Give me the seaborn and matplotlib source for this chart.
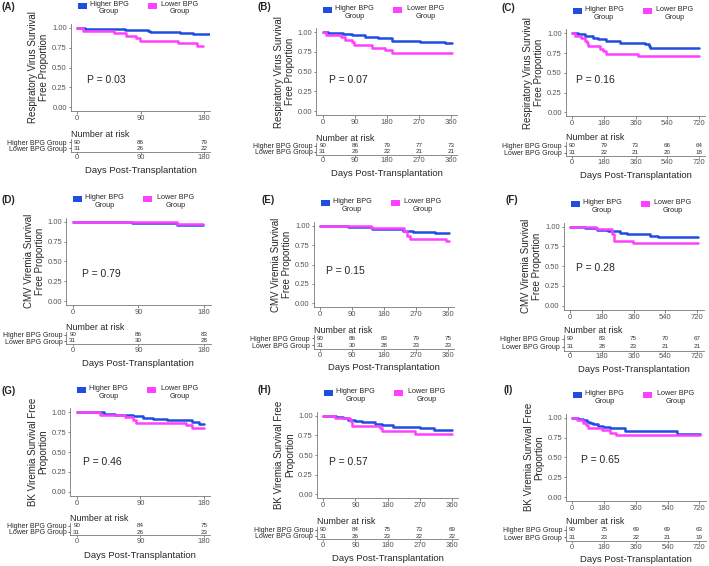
import numpy as np
import pandas as pd
import matplotlib
matplotlib.use("Agg")
import matplotlib.pyplot as plt
import matplotlib.patches as mpatches
import seaborn as sns

W, H = 709, 566
BLUE = "#1f4de0"
PINK = "#ff40ff"
HI = "Higher BPG Group"
LO = "Lower BPG Group"

# x ticks / risk-table time points
ticks_180 = [0, 90, 180]
ticks_360 = [0, 90, 180, 270, 360]
ticks_720 = [0, 180, 360, 540, 720]

# (A) respiratory virus, 180 days
a_hi_t = [0, 12, 68, 100, 104, 146, 165, 189]
a_hi_s = [1, .989, .978, .966, .955, .933, .92, .92]
a_lo_t = [0, 8, 52, 70, 84, 89, 143, 170, 178]
a_lo_s = [1, .968, .935, .903, .871, .839, .806, .774, .774]
a_risk_hi = [90, 86, 79]
a_risk_lo = [31, 26, 22]

# (B) respiratory virus, 360 days
b_hi_t = [0, 16, 58, 81, 119, 156, 194, 273, 343, 362]
b_hi_s = [1, .989, .978, .967, .944, .922, .889, .878, .867, .867]
b_lo_t = [0, 8, 50, 63, 81, 88, 137, 175, 194, 362]
b_lo_s = [1, .968, .935, .903, .871, .839, .806, .774, .742, .742]
b_risk_hi = [90, 86, 79, 77, 73]
b_risk_lo = [31, 26, 22, 21, 21]

# (C) respiratory virus, 720 days
c_hi_t = [0, 34, 72, 119, 150, 195, 271, 413, 435, 445, 722]
c_hi_s = [1, .989, .967, .944, .922, .9, .878, .867, .833, .811, .811]
c_lo_t = [0, 15, 53, 72, 85, 91, 157, 176, 195, 375, 722]
c_lo_s = [1, .968, .935, .903, .871, .839, .806, .774, .742, .71, .71]
c_risk_hi = [90, 79, 73, 66, 64]
c_risk_lo = [31, 22, 21, 20, 18]

# (D) CMV viremia, 180 days
d_hi_t = [0, 81, 143, 178]
d_hi_s = [1, .978, .956, .956]
d_lo_t = [0, 143, 178]
d_lo_s = [1, .968, .968]
d_risk_hi = [90, 86, 83]
d_risk_lo = [31, 30, 28]

# (E) CMV viremia, 360 days
e_hi_t = [0, 80, 145, 234, 262, 323, 362]
e_hi_s = [1, .978, .957, .935, .918, .9, .9]
e_lo_t = [0, 143, 235, 245, 253, 355, 362]
e_lo_s = [1, .968, .935, .871, .826, .80, .80]
e_risk_hi = [90, 86, 83, 79, 75]
e_risk_lo = [31, 30, 28, 23, 23]

# (F) CMV viremia, 720 days
f_hi_t = [0, 85, 151, 217, 283, 321, 453, 500, 722]
f_hi_s = [1, .979, .962, .94, .92, .903, .886, .873, .873]
f_lo_t = [0, 147, 236, 240, 249, 358, 722]
f_lo_s = [1, .968, .935, .903, .823, .79, .79]
f_risk_hi = [90, 83, 75, 70, 67]
f_risk_lo = [31, 28, 23, 21, 21]

# (G) BK viremia, 180 days
g_hi_t = [0, 38, 54, 80, 94, 108, 127, 163, 173, 180]
g_hi_s = [1, .983, .966, .95, .93, .916, .9, .88, .857, .857]
g_lo_t = [0, 33, 68, 80, 84, 155, 163, 180]
g_lo_s = [1, .968, .935, .903, .871, .839, .806, .806]
g_risk_hi = [90, 84, 75]
g_risk_lo = [31, 26, 23]

# (H) BK viremia, 360 days
h_hi_t = [0, 37, 56, 70, 89, 108, 145, 164, 196, 271, 309, 362]
h_hi_s = [1, .983, .966, .95, .936, .915, .9, .88, .86, .84, .818, .818]
h_lo_t = [0, 33, 75, 80, 159, 164, 257, 362]
h_lo_s = [1, .968, .935, .871, .839, .806, .771, .771]
h_risk_hi = [90, 84, 75, 73, 69]
h_risk_lo = [31, 26, 23, 22, 22]

# (I) BK viremia, 720 days
i_hi_t = [0, 34, 62, 81, 100, 119, 147, 176, 214, 299, 592, 722]
i_hi_s = [1, .987, .966, .95, .93, .916, .9, .878, .866, .832, .80, .80]
i_lo_t = [0, 25, 62, 75, 90, 166, 214, 250, 722]
i_lo_s = [1, .968, .935, .903, .871, .839, .806, .786, .786]
i_risk_hi = [90, 75, 69, 69, 63]
i_risk_lo = [31, 23, 22, 21, 19]

panel_labels = ["(A)", "(B)", "(C)", "(D)", "(E)", "(F)", "(G)", "(H)", "(I)"]
p_values = ["0.03", "0.07", "0.16", "0.79", "0.15", "0.28", "0.46", "0.57", "0.65"]
ylabels = ["Respiratory Virus Survival\nFree Proportion"] * 3 + \
          ["CMV Viremia Survival\nFree Proportion"] * 3 + \
          ["BK Viremia Survival Free\nProportion"] * 3

curves = [
    (a_hi_t, a_hi_s, a_lo_t, a_lo_s, a_risk_hi, a_risk_lo, ticks_180),
    (b_hi_t, b_hi_s, b_lo_t, b_lo_s, b_risk_hi, b_risk_lo, ticks_360),
    (c_hi_t, c_hi_s, c_lo_t, c_lo_s, c_risk_hi, c_risk_lo, ticks_720),
    (d_hi_t, d_hi_s, d_lo_t, d_lo_s, d_risk_hi, d_risk_lo, ticks_180),
    (e_hi_t, e_hi_s, e_lo_t, e_lo_s, e_risk_hi, e_risk_lo, ticks_360),
    (f_hi_t, f_hi_s, f_lo_t, f_lo_s, f_risk_hi, f_risk_lo, ticks_720),
    (g_hi_t, g_hi_s, g_lo_t, g_lo_s, g_risk_hi, g_risk_lo, ticks_180),
    (h_hi_t, h_hi_s, h_lo_t, h_lo_s, h_risk_hi, h_risk_lo, ticks_360),
    (i_hi_t, i_hi_s, i_lo_t, i_lo_s, i_risk_hi, i_risk_lo, ticks_720),
]

# pixel layout: x of day 0, x of last tick, y of 1.00, y of 0.00,
# risk row 1 y, risk row 2 y, x-label y, panel label x/y, p-value pos (frac of T, surv)
layout = [
    (77, 204, 28, 107, 142.3, 148.5, 171, 2, 7, .08, .34),
    (322.7, 451, 32.3, 111, 145.7, 151.7, 174, 258, 7, .05, .39),
    (572, 699, 33.3, 112.3, 145.7, 152.7, 175.7, 502, 8, .03, .41),
    (72.7, 204, 221.7, 301, 334.8, 341, 364, 2, 200, .07, .34),
    (320, 448, 225.7, 303.3, 338.3, 345.3, 368, 262, 200, .05, .42),
    (570, 697.3, 226.7, 305.7, 339, 346.7, 369, 505, 200, .05, .48),
    (76.7, 204, 412.3, 491.7, 525.8, 532, 555, 2, 391, .05, .37),
    (323.3, 451.7, 415.7, 494.3, 529.7, 536, 558.3, 258, 390, .045, .41),
    (572.3, 699.3, 417.7, 497, 529.7, 537.3, 559, 503, 390, .068, .47),
]

sns.set_style("ticks")
plt.rcParams["font.family"] = ["Liberation Sans", "DejaVu Sans"]

fig = plt.figure(figsize=(W / 100, H / 100), dpi=100)


def rect(left, top, w, h):
    return [left / W, 1 - (top + h) / H, w / W, h / H]


def fx(px):
    return px / W


def fy(py):
    return 1 - py / H


for k, (cv, g) in enumerate(zip(curves, layout)):
    hi_t, hi_s, lo_t, lo_s, risk_hi, risk_lo, ticks = cv
    x0, x1, y1, y0, r1, r2, xl, lx, ly, px, py = g
    T = ticks[-1]
    sx, sy = x1 - x0, y0 - y1
    left, width = x0 - 0.05 * sx, 1.1 * sx
    top = y1 - 0.05 * sy

    ax = fig.add_axes(rect(left, top, width, 1.1 * sy))
    df = pd.concat([
        pd.DataFrame({"day": hi_t, "surv": hi_s, "group": HI}),
        pd.DataFrame({"day": lo_t, "surv": lo_s, "group": LO}),
    ])
    sns.lineplot(data=df, x="day", y="surv", hue="group", hue_order=[HI, LO],
                 palette={HI: BLUE, LO: PINK}, drawstyle="steps-post",
                 estimator=None, lw=1.8, legend=False, ax=ax)
    ax.set_xlim(-0.05 * T, 1.05 * T)
    ax.set_ylim(-0.05, 1.05)
    ax.set_xticks(ticks)
    ax.set_yticks([0, .25, .5, .75, 1])
    ax.set_yticklabels(["0.00", "0.25", "0.50", "0.75", "1.00"])
    ax.set_xlabel("")
    ax.set_ylabel("")
    ax.tick_params(labelsize=5.5, length=1.8, width=0.5, pad=1,
                   colors="#555555")
    sns.despine(ax=ax)
    for s in ["left", "bottom"]:
        ax.spines[s].set_linewidth(0.6)
        ax.spines[s].set_color("#777777")
    ax.text(px * T, py, f"P = {p_values[k]}", ha="left", va="center",
            fontsize=7.5)

    # risk table
    th = 2 * (r2 - r1)
    tax = fig.add_axes(rect(left, r1 - 0.25 * th, width, th))
    tax.set_xlim(-0.05 * T, 1.05 * T)
    tax.set_ylim(0.5, 2.5)
    tax.set_xticks(ticks)
    tax.set_yticks([2, 1])
    tax.set_yticklabels([HI, LO], fontsize=5.0)
    tax.tick_params(axis="x", labelsize=5.5, length=1.2, width=0.5, pad=0.8,
                    colors="#555555")
    tax.tick_params(axis="y", length=1.2, width=0.5, pad=1.5)
    sns.despine(ax=tax)
    for s in ["left", "bottom"]:
        tax.spines[s].set_linewidth(0.6)
        tax.spines[s].set_color("#777777")
    for t, nh, nl in zip(ticks, risk_hi, risk_lo):
        tax.text(t, 2, str(nh), ha="center", va="center", fontsize=4.5,
                 color="#333333")
        tax.text(t, 1, str(nl), ha="center", va="center", fontsize=4.5,
                 color="#333333")
    tax.set_title("Number at risk", loc="left", fontsize=6.4, pad=1.5)

    fig.text(fx(left + width / 2), fy(xl), "Days Post-Transplantation",
             ha="center", va="center", fontsize=6.8)
    fig.text(fx(left - 32), fy(top + 0.55 * sy), ylabels[k], rotation=90,
             ha="center", va="center", multialignment="center", fontsize=7,
             linespacing=1.1)
    fig.text(fx(lx), fy(ly), panel_labels[k], ha="left", va="center",
             fontsize=7, fontweight="bold")

    # legend
    for dsq, dtx, col, txt in [(5, 32, BLUE, "Higher BPG\nGroup"),
                               (75, 103, PINK, "Lower BPG\nGroup")]:
        fig.add_artist(mpatches.Rectangle(
            (fx(x0 + dsq - 4.5), fy(y1 - 19.5)), 9 / W, 6 / H,
            transform=fig.transFigure, color=col, lw=0))
        fig.text(fx(x0 + dtx), fy(y1 - 20), txt, ha="center", va="center",
                 fontsize=5.2, linespacing=1.1)

fig.savefig("out.png", dpi=100)
